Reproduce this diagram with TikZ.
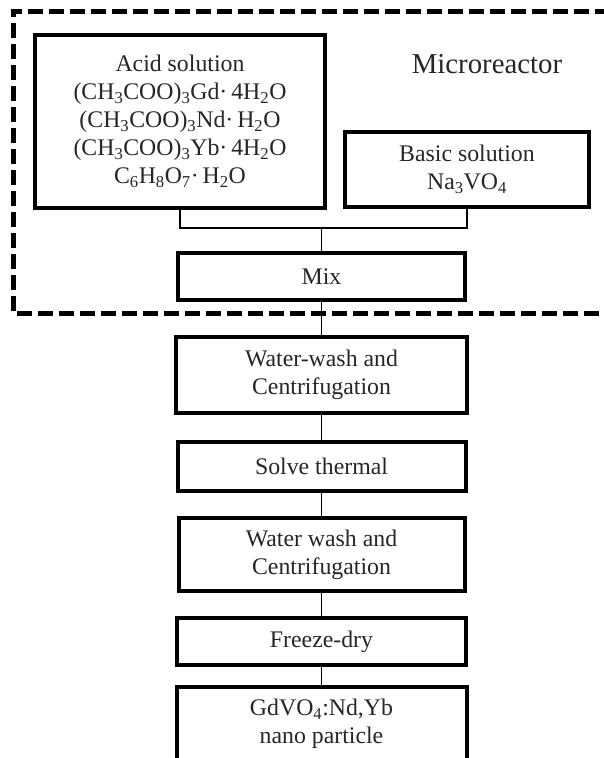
\documentclass[tikz,border=0pt]{standalone}
\usepackage{fontspec}
\setmainfont{Liberation Serif}
\newcommand{\sub}[1]{\textsubscript{#1}}
\begin{document}
\begin{tikzpicture}[x=1pt,y=-1pt,
  box/.style={draw=black, line width=4pt, inner sep=0pt, outer sep=0pt,
    align=center, font=\fontsize{23.8}{28}\selectfont, text=black!85},
  link/.style={draw=black, line width=1.6pt},
  frame/.style={draw=black, line width=5pt, dash pattern=on 15pt off 6pt}]
\useasboundingbox (0,0) rectangle (604,758);
\clip (0,0) rectangle (604,758);

% microreactor frame (open on the right)
\draw[frame] (610,11) -- (13,11) -- (13,313) -- (610,313);
\node[font=\fontsize{28.8}{33}\selectfont, text=black!85] (micro) at (487,64) {Microreactor};

% feed solutions
\node[box, minimum width=290pt, minimum height=173pt] (acid) at (180,121.5)
  {Acid solution\\
   (CH\sub{3}COO)\sub{3}Gd·\,4H\sub{2}O\\
   (CH\sub{3}COO)\sub{3}Nd·\,H\sub{2}O\\
   (CH\sub{3}COO)\sub{3}Yb·\,4H\sub{2}O\\
   C\sub{6}H\sub{8}O\sub{7}·\,H\sub{2}O};
\node[box, minimum width=244pt, minimum height=75pt] (basic) at (467,169.5)
  {Basic solution\\ Na\sub{3}VO\sub{4}};

% process chain
\node[box, minimum width=287pt, minimum height=47pt] (mix) at (321.5,276.5) {Mix};
\node[box, minimum width=291pt, minimum height=76pt] (wash1) at (321.5,375)
  {Water-wash and\\ Centrifugation};
\node[box, minimum width=288pt, minimum height=49pt] (solve) at (321.5,466.5) {Solve thermal};
\node[box, minimum width=286pt, minimum height=73pt] (wash2) at (321.5,554.5)
  {Water wash and\\ Centrifugation};
\node[box, minimum width=289pt, minimum height=47pt] (freeze) at (321.5,641.5) {Freeze-dry};
\node[box, minimum width=290pt, minimum height=74pt] (final) at (321.5,724)
  {GdVO\sub{4}:Nd,Yb\\ nano particle};

% connectors
\coordinate (join) at (321.5,228);
\draw[link] (acid.south) -- (acid.south |- join) -- (basic.south |- join) -- (basic.south);
\draw[link] (join) -- (mix.north);
\draw[link] (mix.south) -- (wash1.north);
\draw[link] (wash1.south) -- (solve.north);
\draw[link] (solve.south) -- (wash2.north);
\draw[link] (wash2.south) -- (freeze.north);
\draw[link] (freeze.south) -- (final.north);
\end{tikzpicture}
\end{document}
